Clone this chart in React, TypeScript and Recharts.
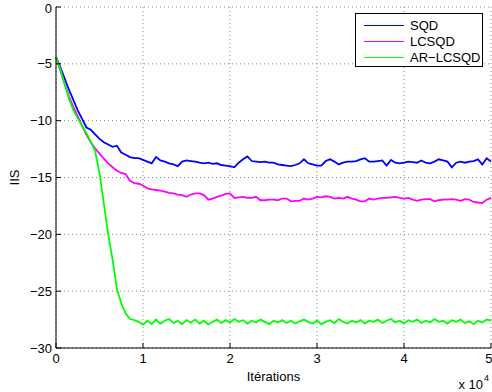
import React from 'react';
import { LineChart, Line, XAxis, YAxis, CartesianGrid, Legend } from 'recharts';

// iterations in units of 10^4, one point every 500 iterations
const iterations = Array.from({ length: 101 }, (_, i) => +(i * 0.05).toFixed(2));

const sqd = [
  -4.4, -5.3, -6.3, -7.3, -8.2, -9.1, -9.85, -10.6, -10.8, -11.2,
  -11.6, -11.9, -12.1, -12.3, -12.2, -12.8, -13.0, -13.2, -13.3, -13.3,
  -13.45, -13.6, -13.75, -13.2, -13.5, -13.6, -13.75, -13.85, -14.0, -13.6,
  -13.5, -13.55, -13.6, -13.7, -13.75, -13.7, -13.8, -13.75, -13.9, -13.95,
  -14.0, -14.1, -13.7, -13.4, -13.15, -13.55, -13.6, -13.65, -13.6, -13.7,
  -13.7, -13.85, -13.9, -13.95, -14.0, -13.9, -13.75, -13.4, -13.75, -13.85,
  -13.95, -13.95, -13.55, -13.4, -13.6, -13.85, -13.7, -13.6, -13.6, -13.55,
  -13.4, -13.3, -13.6, -13.6, -13.55, -13.5, -13.95, -13.45, -13.7, -13.75,
  -13.7, -13.6, -13.65, -13.7, -13.5, -13.7, -13.75, -13.6, -13.4, -13.5,
  -13.6, -14.1, -13.7, -13.6, -13.7, -13.6, -13.55, -13.4, -13.85, -13.3,
  -13.6,
];

const lcsqd = [
  -4.4, -5.6, -6.8, -7.9, -8.8, -9.6, -10.45, -11.25, -11.9, -12.45,
  -12.9, -13.35, -13.75, -14.1, -14.4, -14.6, -14.7, -15.3, -15.5, -15.55,
  -15.7, -15.95, -16.05, -16.1, -16.15, -16.25, -16.35, -16.4, -16.5, -16.55,
  -16.7, -16.5, -16.4, -16.4, -16.55, -16.95, -16.85, -16.7, -16.6, -16.45,
  -16.4, -16.8, -16.75, -16.7, -16.8, -16.8, -16.7, -17.0, -17.0, -16.95,
  -16.95, -17.0, -16.85, -16.85, -17.1, -17.05, -17.05, -16.85, -16.95, -16.85,
  -16.7, -16.75, -16.65, -16.7, -16.85, -16.8, -16.85, -16.7, -16.85, -16.95,
  -17.1, -17.1, -16.85, -16.95, -16.85, -16.8, -16.8, -16.75, -16.7, -16.8,
  -16.85, -16.8, -16.95, -17.05, -16.95, -16.9, -16.9, -17.1, -17.0, -16.95,
  -16.95, -16.9, -16.95, -17.05, -16.9, -16.95, -17.15, -17.2, -17.25, -16.95,
  -16.8,
];

const arLcsqd = [
  -4.4, -5.5, -6.8, -8.1, -9.1, -9.8, -10.45, -11.1, -11.85, -12.7,
  -14.6, -17.3, -20.0, -22.2, -24.8, -26.05, -26.95, -27.45, -27.55, -27.7,
  -27.95, -27.6, -27.9, -27.5, -27.85, -27.6, -27.45, -27.8, -27.6, -27.9,
  -27.55, -27.75, -27.5, -27.85, -27.6, -27.95, -27.7, -27.5, -27.8, -27.55,
  -27.75, -27.45, -27.7, -27.55, -27.85, -27.6, -27.75, -27.5, -27.7, -27.9,
  -27.6, -27.75, -27.55, -27.8, -27.6, -27.85, -27.65, -27.5, -27.7, -27.85,
  -27.6, -27.9, -27.7, -27.55, -27.8, -27.45, -27.7, -27.85, -27.6, -27.75,
  -27.55, -27.85, -27.6, -27.7, -27.5, -27.8, -27.6, -27.45, -27.75, -27.6,
  -27.85, -27.55, -27.7, -27.5, -27.8, -27.6, -27.75, -27.45, -27.7, -27.6,
  -27.85, -27.55, -27.7, -27.5, -27.8, -27.65, -27.9, -27.6, -27.75, -27.5,
  -27.6,
];

const xTicks = [0, 1, 2, 3, 4, 5];
const yTicks = [-30, -25, -20, -15, -10, -5, 0];

const seriesNames = ['SQD', 'LCSQD', 'AR\u2212LCSQD'];
const seriesColors = ['#0000ff', '#ff00ff', '#00ff00'];

const data = iterations.map((x, i) => ({
  x,
  sqd: sqd[i],
  lcsqd: lcsqd[i],
  ar: arLcsqd[i],
}));

const font = '"Liberation Sans", Arial, Helvetica, sans-serif';
const tickStyle = { fontSize: 13, fill: '#000', fontFamily: font };
const fmt = (v: number) => String(v).replace('-', '\u2212');

function LegendBox() {
  return (
    <div
      style={{
        border: '1px solid #000',
        background: '#fff',
        width: 128,
        height: 54,
        fontFamily: font,
        fontSize: 13,
        boxSizing: 'border-box',
        paddingTop: 3,
      }}
    >
      {seriesNames.map((name, i) => (
        <div key={name} style={{ display: 'flex', alignItems: 'center', height: 16 }}>
          <div style={{ marginLeft: 8, width: 40, height: 1, background: seriesColors[i] }} />
          <span style={{ marginLeft: 6 }}>{name}</span>
        </div>
      ))}
    </div>
  );
}

export default function App() {
  return (
    <div style={{ width: 492, height: 392, background: '#fff' }}>
      <style>{'body{margin:0}'}</style>
      <LineChart width={492} height={392} data={data} margin={{ top: 7, right: 1, bottom: 0, left: 0 }}>
        <CartesianGrid stroke="#888" strokeDasharray="1 3" />
        <XAxis
          dataKey="x"
          type="number"
          domain={[0, 5]}
          ticks={xTicks}
          height={44}
          tickSize={-5}
          tickMargin={11}
          tick={tickStyle}
          stroke="#000"
          label={({ viewBox }: any) => (
            <g fontFamily={font} fill="#000">
              <text x={viewBox.x + viewBox.width / 2} y={381} textAnchor="middle" fontSize={13}>
                Itérations
              </text>
              <text x={483} y={389} textAnchor="end" fontSize={13}>
                x 10
              </text>
              <text x={484} y={381} textAnchor="start" fontSize={9}>
                4
              </text>
            </g>
          )}
        />
        <XAxis xAxisId="top" orientation="top" type="number" domain={[0, 5]} ticks={xTicks} height={0} tickSize={-5} tick={false} stroke="#000" />
        <YAxis
          type="number"
          domain={[-30, 0]}
          ticks={yTicks}
          width={56}
          tickSize={-5}
          tickMargin={9}
          tick={tickStyle}
          tickFormatter={fmt}
          stroke="#000"
          label={({ viewBox }: any) => (
            <text
              x={19}
              y={viewBox.y + viewBox.height / 2}
              transform={`rotate(-90 19 ${viewBox.y + viewBox.height / 2})`}
              textAnchor="middle"
              fontFamily={font}
              fontSize={13}
              fill="#000"
            >
              IIS
            </text>
          )}
        />
        <YAxis yAxisId="right" orientation="right" type="number" domain={[-30, 0]} ticks={yTicks} width={0} tickSize={-5} tick={false} stroke="#000" />
        <Legend
          layout="vertical"
          align="center"
          verticalAlign="middle"
          content={() => <LegendBox />}
          wrapperStyle={{ position: 'absolute', left: 355, top: 13, width: 128, height: 54 }}
        />
        <Line dataKey="sqd" stroke={seriesColors[0]} strokeWidth={1.8} dot={false} isAnimationActive={false} />
        <Line dataKey="lcsqd" stroke={seriesColors[1]} strokeWidth={1.8} dot={false} isAnimationActive={false} />
        <Line dataKey="ar" stroke={seriesColors[2]} strokeWidth={1.8} dot={false} isAnimationActive={false} />
      </LineChart>
    </div>
  );
}
